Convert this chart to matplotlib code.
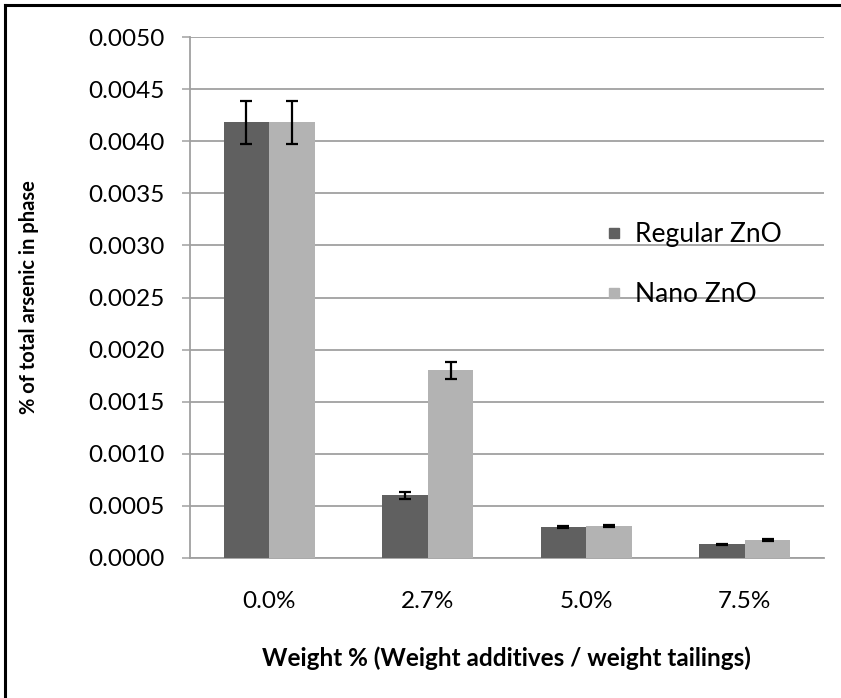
import numpy as np
import matplotlib.pyplot as plt
from matplotlib.lines import Line2D

# valores
categorias = ["0.0%", "2.7%", "5.0%", "7.5%"]
regular = [0.00418, 0.00060, 0.00030, 0.000130]
regular_err = [0.00021, 0.000030, 0.000010, 0.000008]
nano = [0.00418, 0.00180, 0.00031, 0.000175]
nano_err = [0.00021, 0.000085, 0.000010, 0.000008]
yticks = np.arange(0, 0.00501, 0.0005)

plt.rcParams['font.family'] = ['Lato', 'DejaVu Sans']

fig = plt.figure(figsize=(8.41, 6.98), dpi=100)
ax = fig.add_axes([190 / 841, 1 - 558 / 698, (824 - 190) / 841, (558 - 37) / 698])

x = np.arange(len(categorias))
w = 0.288
cor_reg = "#606060"
cor_nano = "#b3b3b3"
erro = dict(ecolor="black", elinewidth=1.6, capsize=4, capthick=1.6)

ax.bar(x - w / 2, regular, w, color=cor_reg, yerr=regular_err, error_kw=erro, zorder=3)
ax.bar(x + w / 2, nano, w, color=cor_nano, yerr=nano_err, error_kw=erro, zorder=3)

ax.set_xlim(-0.5, 3.5)
ax.set_ylim(0, 0.005)
ax.set_yticks(yticks)
ax.set_yticklabels(["%.4f" % v for v in yticks])
ax.set_xticks(x)
ax.set_xticklabels(categorias)

ax.yaxis.grid(True, color="#a0a0a0", linewidth=1.3, zorder=0)
ax.set_axisbelow(True)
for s in ["top", "right"]:
    ax.spines[s].set_visible(False)
for s in ["left", "bottom"]:
    ax.spines[s].set_color("#a0a0a0")
    ax.spines[s].set_linewidth(1.3)

ax.tick_params(axis="y", direction="out", length=6, width=1.1, color="#a0a0a0",
               pad=12, labelsize=17.5)
ax.tick_params(axis="x", length=0, pad=24, labelsize=17.5)

ax.set_ylabel("% of total arsenic in phase", fontsize=14.5, fontweight="bold")
ax.yaxis.set_label_coords(-0.238, 0.5)
fig.text(506 / 841, 1 - 658 / 698, "Weight % (Weight additives / weight tailings)",
         fontsize=17.5, fontweight="bold", ha="center", va="center")

handles = [Line2D([], [], marker="s", linestyle="none", markersize=7, color=cor_reg),
           Line2D([], [], marker="s", linestyle="none", markersize=7, color=cor_nano)]
ax.legend(handles, ["Regular ZnO", "Nano ZnO"], loc="upper left",
          bbox_to_anchor=(582 / 841, 1 - 198 / 698), bbox_transform=fig.transFigure,
          frameon=False, fontsize=19, handlelength=0.6, handletextpad=0.5,
          labelspacing=1.35)

# moldura
fig.add_artist(Line2D([5 / 841, 5 / 841], [0, 1 - 5 / 698], color="black", linewidth=2.2))
fig.add_artist(Line2D([5 / 841, 1], [1 - 5 / 698, 1 - 5 / 698], color="black", linewidth=2.2))

fig.savefig("out.png", dpi=100)
